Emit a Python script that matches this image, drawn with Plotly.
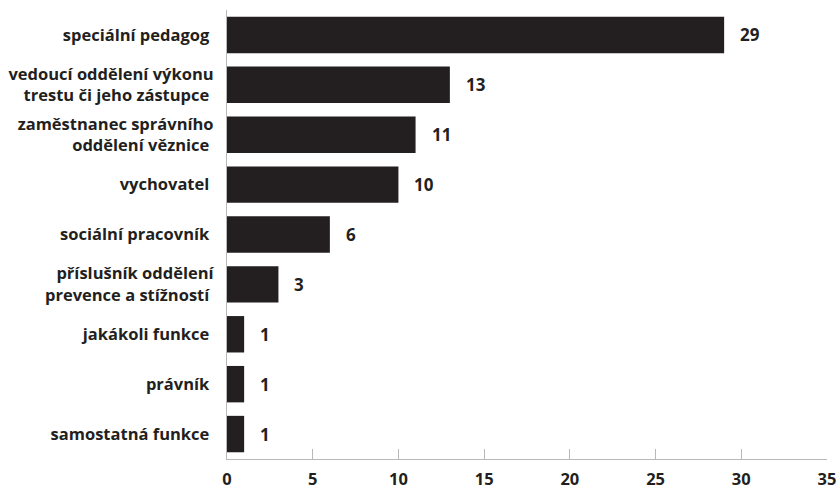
import plotly.graph_objects as go

categories = [
    "speciální pedagog\u00a0",
    "vedoucí oddělení výkonu<br>trestu či jeho zástupce\u00a0",
    "zaměstnanec správního<br>oddělení věznice\u00a0",
    "vychovatel\u00a0",
    "sociální pracovník\u00a0",
    "příslušník oddělení<br>prevence a stížností\u00a0",
    "jakákoli funkce\u00a0",
    "právník\u00a0",
    "samostatná funkce\u00a0",
]
values = [29, 13, 11, 10, 6, 3, 1, 1, 1]
x_ticks = [0, 5, 10, 15, 20, 25, 30, 35]

DARK = "#231f20"
FONT = "Open Sans"

fig = go.Figure()
fig.add_trace(go.Bar(
    y=categories,
    x=values,
    orientation="h",
    marker=dict(color=DARK, line=dict(width=0)),
    width=0.73,
    hoverinfo="skip",
))

for c, v in zip(categories, values):
    fig.add_annotation(
        x=v, y=c, text=f"<b>{v}</b>", showarrow=False,
        xanchor="left", yanchor="middle", xshift=14,
        font=dict(family=FONT, size=17, color=DARK),
    )

fig.update_layout(
    width=840, height=492,
    margin=dict(l=227, r=13, t=10, b=33, autoexpand=False),
    paper_bgcolor="white", plot_bgcolor="white",
    showlegend=False,
    font=dict(family=FONT, color=DARK),
    bargap=0.27,
)
fig.update_xaxes(
    range=[0, 35], tickvals=x_ticks, ticktext=[f"<b>{t}</b>" for t in x_ticks],
    showgrid=False, zeroline=False, automargin=False,
    showline=True, linecolor="#b8b8b8", linewidth=1.2,
    ticks="inside", ticklen=10, tickcolor="#b8b8b8", tickwidth=1.2,
    tickfont=dict(family=FONT, size=16.5, color=DARK),
    ticklabelstandoff=5,
)
fig.update_yaxes(
    categoryorder="array", categoryarray=categories[::-1],
    autorange=False, range=[-0.5, len(categories) - 0.5],
    showgrid=False, zeroline=False, automargin=False,
    showline=True, linecolor="#b8b8b8", linewidth=1.2,
    ticks="", ticklabelstandoff=9,
    tickfont=dict(family=FONT, size=16.5, color=DARK),
    tickvals=categories, ticktext=[f"<b>{c}</b>".replace("<br>", "</b><br><b>") for c in categories],
)

fig.write_html(
    "out.html",
    config={"displayModeBar": False},
    post_script="document.body.style.margin='0';document.body.style.padding='0';",
)
